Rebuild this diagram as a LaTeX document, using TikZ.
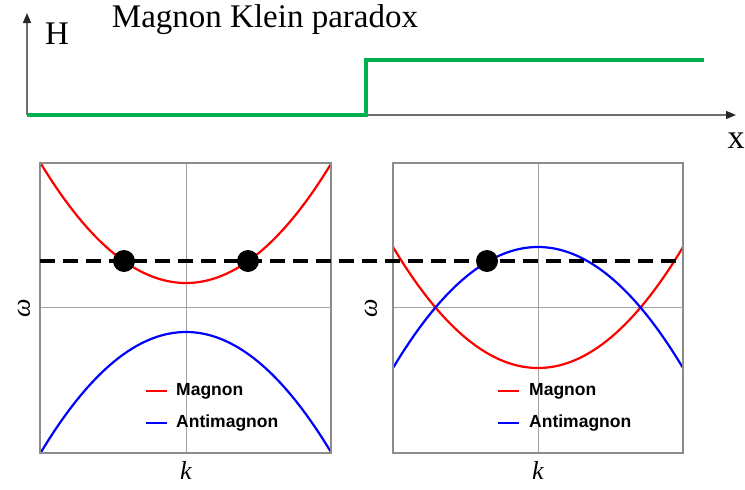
\documentclass[tikz,border=0pt]{standalone}
\usepackage{fontspec}
\setmainfont{Liberation Serif}
\newfontfamily\legendfont{Liberation Sans}
\usetikzlibrary{arrows.meta}
\definecolor{stepgreen}{HTML}{00B050}
\definecolor{framegray}{HTML}{8C8C8C}
\definecolor{axisgray}{HTML}{6E6E6E}
\tikzset{
  axisline/.style={draw=axisgray, line width=1.4pt, -{Triangle[length=10pt,width=8pt,color=black!85]}},
  panelframe/.style={draw=framegray, line width=2pt},
  crossline/.style={draw=framegray!80, line width=0.9pt},
  magnon/.style={draw=red, line width=2.2pt},
  antimagnon/.style={draw=blue, line width=2.2pt},
  levelline/.style={draw=black, line width=3.2pt, dash pattern=on 15pt off 8pt},
  dot/.style={circle, fill=black, inner sep=0pt, minimum size=22pt},
  legendtext/.style={anchor=west, inner sep=0pt, font=\legendfont\bfseries\fontsize{17.5}{20}\selectfont},
  axislabel/.style={inner sep=0pt, font=\fontsize{26}{30}\selectfont\itshape},
}
\begin{document}
\begin{tikzpicture}[x=1pt, y=-1pt]
\useasboundingbox (0,0) rectangle (745,490);
% ---- top: potential step ----
\coordinate (O) at (27,115);
\coordinate (Htip) at (27,13);
\coordinate (Xtip) at (736,115);
\draw[axisline] (O) -- (Htip);
\draw[axisline] (O) -- (Xtip);
\coordinate (g0) at (27,115);
\coordinate (g1) at (366,115);
\coordinate (g2) at (366,60);
\coordinate (g3) at (704,60);
\draw[draw=stepgreen, line width=4pt, line join=miter] (g0) -- (g1) -- (g2) -- (g3);
\node[inner sep=0pt, font=\fontsize{33}{38}\selectfont] (title) at (265,20) {Magnon Klein paradox};
\node[inner sep=0pt, font=\fontsize{33}{38}\selectfont] (H) at (57,34) {H};
\node[inner sep=0pt, font=\fontsize{34}{38}\selectfont] (X) at (736,141) {x};
% ---- left panel ----
\draw[crossline] (186,163) -- (186,453);
\draw[crossline] (40,307) -- (331,307);
\draw[magnon] plot[domain=40:331, samples=80, smooth] (\x, {283 - 120*((\x-186)/145.5)^2});
\draw[antimagnon] plot[domain=40:331, samples=80, smooth] (\x, {332 + 121*((\x-186)/145.5)^2});
\draw[panelframe] (40,163) rectangle (331,453);
\node[axislabel, rotate=90] (wL) at (24,308) {ω};
\node[axislabel] (kL) at (186,470) {k};
\coordinate (mL1) at (146,391); \coordinate (mL2) at (167,391);
\coordinate (aL1) at (146,423); \coordinate (aL2) at (167,423);
\draw[draw=red, line width=2.4pt] (mL1) -- (mL2);
\draw[draw=blue, line width=2.4pt] (aL1) -- (aL2);
\node[legendtext] (tmL) at (176,391) {Magnon};
\node[legendtext] (taL) at (176,423) {Antimagnon};
% ---- right panel ----
\draw[crossline] (538,163) -- (538,453);
\draw[crossline] (393,307) -- (683,307);
\draw[magnon] plot[domain=393:683, samples=80, smooth] (\x, {368 - 121*((\x-538)/145)^2});
\draw[antimagnon] plot[domain=393:683, samples=80, smooth] (\x, {247 + 121*((\x-538)/145)^2});
\draw[panelframe] (393,163) rectangle (683,453);
\node[axislabel, rotate=90] (wR) at (371,308) {ω};
\node[axislabel] (kR) at (538,470) {k};
\coordinate (mR1) at (498,391); \coordinate (mR2) at (519,391);
\coordinate (aR1) at (498,423); \coordinate (aR2) at (519,423);
\draw[draw=red, line width=2.4pt] (mR1) -- (mR2);
\draw[draw=blue, line width=2.4pt] (aR1) -- (aR2);
\node[legendtext] (tmR) at (529,391) {Magnon};
\node[legendtext] (taR) at (529,423) {Antimagnon};
% ---- energy level ----
\coordinate (lvA) at (40,261);
\coordinate (lvB) at (683,261);
\draw[levelline] (lvA) -- (lvB);
\node[dot] (d1) at (124,261) {};
\node[dot] (d2) at (248,261) {};
\node[dot] (d3) at (487,261) {};
\end{tikzpicture}
\end{document}
